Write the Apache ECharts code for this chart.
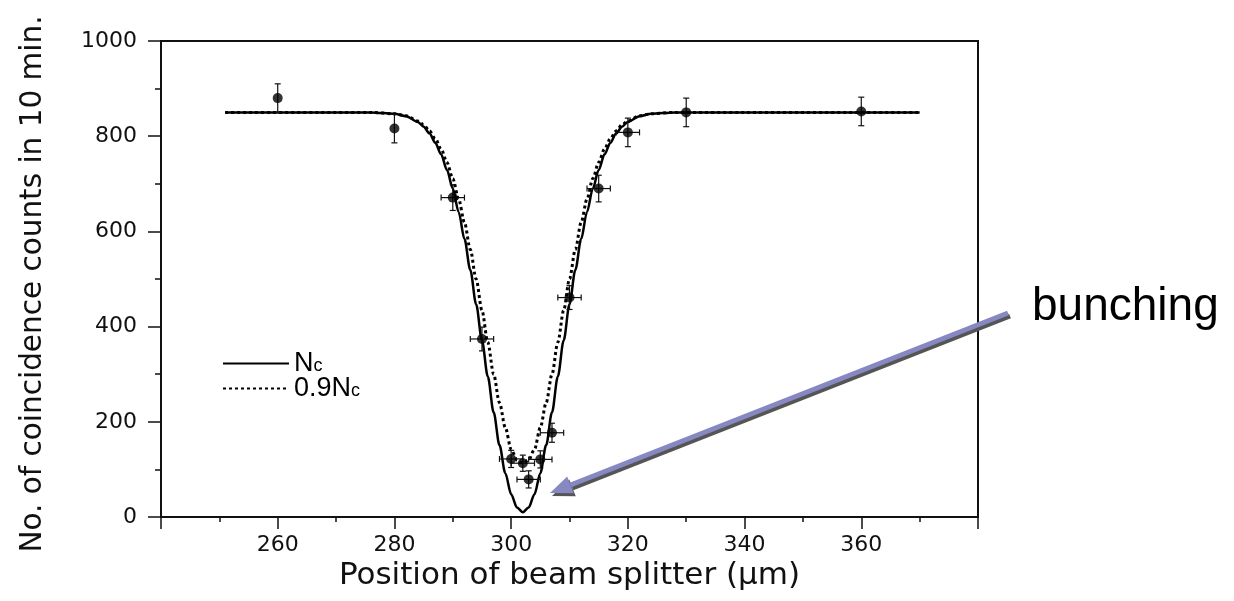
<!DOCTYPE html>
<html>
<head>
<meta charset="UTF-8">
<title>HOM dip</title>
<style>
  html, body { margin: 0; padding: 0; background: #fff; }
  #chart { width: 1234px; height: 601px; }
</style>
</head>
<body>
<div id="chart"></div>
<script src="https://cdn.jsdelivr.net/npm/echarts@6/dist/echarts.min.js"></script>
<script>
// fitted curves (position in um, counts)
var curveX = [251, 270, 276, 280, 282, 284, 285, 286, 287, 288, 289, 290, 291, 292, 293, 294, 295, 296, 297, 298, 299, 300, 301,
              302, 303, 304, 305, 306, 307, 308, 309, 310, 311, 312, 313, 314, 315, 316, 317, 318, 319, 320, 322, 324, 328, 340, 370];
var ncCurve = [850, 850, 850, 847, 842, 830, 820, 806, 786, 762, 729, 690, 641, 584, 519, 447, 371, 295, 220, 151, 92, 48, 20,
               10, 20, 48, 92, 151, 220, 295, 371, 447, 519, 584, 641, 690, 729, 762, 786, 806, 820, 830, 842, 847, 850, 850, 850];
var nc09Curve = [850, 850, 850, 847, 843, 832, 824, 811, 795, 773, 745, 711, 668, 619, 562, 500, 434, 367, 300, 240, 188, 142, 120,
                 113, 120, 142, 188, 240, 300, 367, 434, 500, 562, 619, 668, 711, 745, 773, 795, 811, 824, 832, 843, 847, 850, 850, 850];

// measured points with error bars
var ptX    = [260, 280, 290, 295, 300, 302, 303, 305, 307, 310, 315, 320, 330, 360];
var ptY    = [880, 816, 671, 374, 122, 113, 79, 121, 177, 461, 690, 808, 850, 852];
var ptXErr = [0, 0, 2, 2, 2, 2, 2, 2, 2, 2, 2, 2, 0, 0];
var ptYErr = [30, 30, 27, 25, 18, 17, 18, 18, 20, 25, 28, 30, 30, 30];

var legendNames = ['Nc', '0.9Nc'];

var font = 'Liberation Sans';
var axisFont = 'DejaVu Sans';
var ink = '#111';

var chart = echarts.init(document.getElementById('chart'));

var curve = function (vals) {
    return curveX.map(function (x, i) { return [x, vals[i]]; });
};
var points = ptX.map(function (x, i) { return [x, ptY[i], ptXErr[i], ptYErr[i]]; });

// error bars with small caps
var renderErr = function (params, api) {
    var x = api.value(0), y = api.value(1), xe = api.value(2), ye = api.value(3);
    var c = api.coord([x, y]);
    var cap = 3;
    var st = { stroke: ink, lineWidth: 1.2 };
    var kids = [];
    if (ye > 0) {
        var t = api.coord([x, y + ye]), b = api.coord([x, y - ye]);
        kids.push({ type: 'line', shape: { x1: c[0], y1: t[1], x2: c[0], y2: b[1] }, style: st });
        kids.push({ type: 'line', shape: { x1: c[0] - cap, y1: t[1], x2: c[0] + cap, y2: t[1] }, style: st });
        kids.push({ type: 'line', shape: { x1: c[0] - cap, y1: b[1], x2: c[0] + cap, y2: b[1] }, style: st });
    }
    if (xe > 0) {
        var l = api.coord([x - xe, y]), r = api.coord([x + xe, y]);
        kids.push({ type: 'line', shape: { x1: l[0], y1: c[1], x2: r[0], y2: c[1] }, style: st });
        kids.push({ type: 'line', shape: { x1: l[0], y1: c[1] - cap, x2: l[0], y2: c[1] + cap }, style: st });
        kids.push({ type: 'line', shape: { x1: r[0], y1: c[1] - cap, x2: r[0], y2: c[1] + cap }, style: st });
    }
    return { type: 'group', children: kids };
};

// annotation arrow (pixel positions)
var tail = [1008, 313], tip = [550, 493];
var dx = tip[0] - tail[0], dy = tip[1] - tail[1];
var len = Math.sqrt(dx * dx + dy * dy);
var ux = dx / len, uy = dy / len, nx = -uy, ny = ux;
var headLen = 22, headW = 9;
var base = [tip[0] - ux * headLen, tip[1] - uy * headLen];
var head = [tip, [base[0] + nx * headW, base[1] + ny * headW], [base[0] - nx * headW, base[1] - ny * headW]];
var shift = function (pts, ox, oy) { return pts.map(function (p) { return [p[0] + ox, p[1] + oy]; }); };

option = {
    backgroundColor: '#fff',
    animation: false,
    grid: { left: 161, right: 256, top: 41, bottom: 84, show: true, borderColor: ink, borderWidth: 2 },
    legend: {
        data: legendNames,
        orient: 'vertical',
        left: 217, top: 345,
        itemWidth: 66, itemHeight: 14, itemGap: -2,
        itemStyle: { color: 'rgba(0,0,0,0)', borderWidth: 0 },
        formatter: function (name) { return name === 'Nc' ? '{b|N}{s|c}' : '{b|0.9N}{s|c}'; },
        textStyle: {
            color: '#000',
            rich: {
                b: { fontFamily: font, fontSize: 27, lineHeight: 24, color: '#000' },
                s: { fontFamily: font, fontSize: 18, lineHeight: 1, verticalAlign: 'bottom', color: '#000' }
            }
        }
    },
    xAxis: {
        type: 'value',
        min: 240, max: 380, interval: 20,
        name: 'Position of beam splitter (\u03bcm)',
        nameLocation: 'middle', nameGap: 40,
        nameTextStyle: { fontFamily: axisFont, fontSize: 31, color: ink },
        axisLine: { lineStyle: { color: ink, width: 2 } },
        axisTick: { length: 12, lineStyle: { color: ink, width: 1.5 } },
        minorTick: { show: true, splitNumber: 2, length: 5, lineStyle: { color: ink, width: 1.5 } },
        axisLabel: {
            margin: 17, fontFamily: axisFont, fontSize: 22, color: ink,
            formatter: function (v) { return (v === 240 || v === 380) ? '' : String(v); }
        },
        splitLine: { show: false }
    },
    yAxis: {
        type: 'value',
        min: 0, max: 1000, interval: 200,
        name: 'No. of coincidence counts in 10 min.',
        nameLocation: 'middle', nameGap: 113,
        nameTextStyle: { fontFamily: axisFont, fontSize: 29.5, color: ink, padding: [0, 10, 0, 0] },
        axisLine: { lineStyle: { color: ink, width: 2 } },
        axisTick: { length: 13, lineStyle: { color: ink, width: 1.5 } },
        minorTick: { show: true, splitNumber: 2, length: 6, lineStyle: { color: ink, width: 1.5 } },
        axisLabel: { margin: 24, fontFamily: axisFont, fontSize: 22, color: ink, formatter: function (v) { return String(v); } },
        splitLine: { show: false }
    },
    series: [
        {
            name: '0.9Nc', type: 'line', data: curve(nc09Curve),
            smooth: 0.3, smoothMonotone: 'x', symbol: 'none', z: 2,
            lineStyle: { color: '#000', width: 3, type: [3, 3] },
            itemStyle: { color: '#000' }
        },
        {
            name: 'Nc', type: 'line', data: curve(ncCurve),
            smooth: 0.3, smoothMonotone: 'x', symbol: 'none', z: 3,
            lineStyle: { color: '#000', width: 2.5 },
            itemStyle: { color: '#000' }
        },
        {
            name: 'err', type: 'custom', data: points, renderItem: renderErr, z: 4,
            encode: { x: 0, y: 1 }
        },
        {
            name: 'data', type: 'scatter', data: points, symbol: 'circle', symbolSize: 10, z: 5,
            itemStyle: { color: '#000' }
        }
    ],
    graphic: [
        { type: 'line', shape: { x1: tail[0] + 2, y1: tail[1] + 3, x2: base[0] + 2, y2: base[1] + 3 }, style: { stroke: '#555', lineWidth: 5 }, z: 10 },
        { type: 'polygon', shape: { points: shift(head, 2, 3) }, style: { fill: '#555' }, z: 10 },
        { type: 'line', shape: { x1: tail[0], y1: tail[1], x2: base[0], y2: base[1] }, style: { stroke: '#8787c2', lineWidth: 5 }, z: 11 },
        { type: 'polygon', shape: { points: head }, style: { fill: '#8787c2' }, z: 11 },
        { type: 'text', style: { text: 'bunching', x: 1032, y: 307, fontFamily: font, fontSize: 46, fill: '#000', verticalAlign: 'middle' }, z: 11 }
    ]
};
chart.setOption(option);
</script>
</body>
</html>
